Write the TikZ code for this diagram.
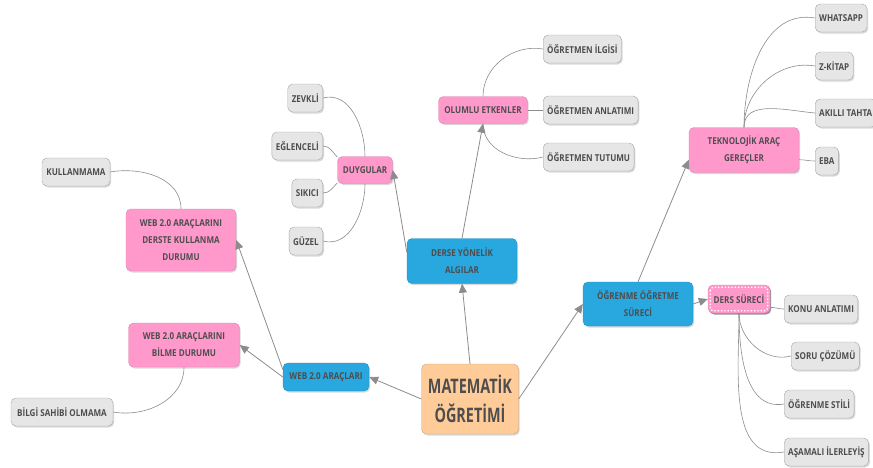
\documentclass[tikz,border=0pt]{standalone}
\usepackage{fontspec}
\setmainfont{Open Sans}[FakeStretch=0.85]
\newfontfamily\rootfont{Open Sans}[FakeStretch=0.72]
\usepackage{tikz}
\usetikzlibrary{arrows.meta}
\usetikzlibrary{shadows}
\definecolor{nodepink}{HTML}{FF99CC}
\definecolor{nodeblue}{HTML}{29A8DF}
\definecolor{rootpeach}{HTML}{FFCC99}
\definecolor{leafgray}{HTML}{E6E6E6}
\definecolor{linegray}{HTML}{8C8C8C}
\definecolor{txtgray}{HTML}{4D4D4D}
\tikzset{>=stealth}
\tikzset{
  box/.style={rounded corners=5pt, text=txtgray, align=center,
    font=\fontsize{9.5}{17}\selectfont\bfseries, inner xsep=4pt,
    drop shadow={shadow xshift=1.2pt, shadow yshift=-1.5pt, opacity=#1}},
  box/.default=0.3,
  leaf/.style={box, fill=leafgray, draw=gray!70, minimum height=28pt},
  pinkbox/.style={box, fill=nodepink, draw=nodepink!85!black, minimum height=27pt},
  dersbox/.style={box=0.85, fill=nodepink, draw=nodepink!85!black, minimum height=28pt},
  bluebox/.style={box, fill=nodeblue, draw=nodeblue!85!black, minimum height=28pt},
  rootbox/.style={box, fill=rootpeach, draw=rootpeach!80!black,
    font=\rootfont\fontsize{20}{29}\selectfont\bfseries},
  mainlink/.style={draw=linegray, line width=0.8pt, -{Triangle[length=9pt,width=8pt]}},
  sublink/.style={draw=linegray, line width=0.6pt}
}

\begin{document}
\begin{tikzpicture}[x=1pt,y=1pt]
      \useasboundingbox (0,0) rectangle (873,-467);
      % centre and first level
      \node[rootbox, minimum width=97pt, minimum height=70pt] (root) at (470,-399) {MATEMATİK\\ÖĞRETİMİ};
      \node[bluebox, minimum width=86pt] (web) at (326,-377) {WEB 2.0 ARAÇLARI};
      \node[bluebox, minimum width=110pt, minimum height=45pt] (derse) at (462,-261) {DERSE YÖNELİK\\ALGILAR};
      \node[bluebox, minimum width=110pt, minimum height=44pt] (ogrenme) at (638,-304) {ÖĞRENME ÖĞRETME\\SÜRECİ};
      % web 2.0 side
      \node[pinkbox, minimum width=111pt, minimum height=44pt] (bilme) at (184,-345) {WEB 2.0 ARAÇLARINI\\BİLME DURUMU};
      \node[leaf, minimum width=102pt] (bilgi) at (62,-412) {BİLGİ SAHİBİ OLMAMA};
      \node[pinkbox, minimum width=110pt, minimum height=62pt] (derste) at (181,-240) {WEB 2.0 ARAÇLARINI\\DERSTE KULLANMA\\DURUMU};
      \node[leaf, minimum width=68pt] (kullan) at (76,-172) {KULLANMAMA};
      % algilar side
      \node[pinkbox, minimum width=55pt] (duygu) at (365,-170) {DUYGULAR};
      \node[leaf, anchor=east] (zevk) at (323,-98) {ZEVKLİ};
      \node[leaf, anchor=east] (eglen) at (323,-146) {EĞLENCELİ};
      \node[leaf, anchor=east] (sikici) at (323,-193) {SIKICI};
      \node[leaf, anchor=east] (guzel) at (323,-241) {GÜZEL};
      \node[pinkbox, minimum width=89pt] (olumlu) at (483,-110) {OLUMLU ETKENLER};
      \node[leaf, anchor=west] (ilgi) at (543,-49) {ÖĞRETMEN İLGİSİ};
      \node[leaf, anchor=west] (anlatim) at (543,-110) {ÖĞRETMEN ANLATIMI};
      \node[leaf, anchor=west] (tutum) at (543,-157) {ÖĞRETMEN TUTUMU};
      % surec side
      \node[pinkbox, minimum width=110pt, minimum height=45pt] (tekno) at (744,-150) {TEKNOLOJİK ARAÇ\\GEREÇLER};
      \node[leaf, anchor=west] (whats) at (815,-18) {WHATSAPP};
      \node[leaf, anchor=west] (zkitap) at (815,-66) {Z-KİTAP};
      \node[leaf, anchor=west] (akilli) at (815,-113) {AKILLI TAHTA};
      \node[leaf, anchor=west] (eba) at (815,-161) {EBA};
      \node[dersbox, minimum width=62pt] (ders) at (739,-299) {DERS SÜRECİ};
      \draw[white, dotted, line width=1.3pt, rounded corners=3pt] ([xshift=2.5pt,yshift=-2.5pt]ders.north west) rectangle ([xshift=-2.5pt,yshift=2.5pt]ders.south east);
      \node[leaf, anchor=west] (konu) at (784,-309) {KONU ANLATIMI};
      \node[leaf, anchor=west] (soru) at (791,-356) {SORU ÇÖZÜMÜ};
      \node[leaf, anchor=west] (stil) at (784,-404) {ÖĞRENME STİLİ};
      \node[leaf, anchor=west] (asama) at (784,-452) {AŞAMALI İLERLEYİŞ};
      % arrows
      \draw[mainlink] (root.west) -- (web.east);
      \draw[mainlink] (root.north) -- (derse.south);
      \draw[mainlink] (root.east) -- (ogrenme.west);
      \draw[mainlink] (web.west) -- (bilme.east);
      \draw[mainlink] (web.170) -- (derste.east);
      \draw[mainlink] (derse.171) -- (duygu.east);
      \draw[mainlink] (derse.north) -- (olumlu.south);
      \draw[mainlink] (ogrenme.north) -- (tekno.190);
      \draw[mainlink] (ogrenme.east) -- (ders.west);
      % thin curves
      \draw[sublink] (derste.north) to[out=90,in=10] (kullan.east);
      \draw[sublink] (bilme.south) to[out=-90,in=-10] (bilgi.east);
      \draw[sublink] (duygu.north) to[out=90,in=15] (zevk.east);
      \draw[sublink] (duygu.155) to[out=135,in=0] (eglen.east);
      \draw[sublink] (duygu.205) to[out=-135,in=0] (sikici.east);
      \draw[sublink] (duygu.south) to[out=-90,in=-15] (guzel.east);
      \draw[sublink] (olumlu.north) to[out=90,in=170] (ilgi.west);
      \draw[sublink] (olumlu.east) -- (anlatim.west);
      \draw[sublink] (olumlu.south) to[out=-90,in=-165] (tutum.west);
      \draw[sublink] (tekno.north) to[out=90,in=170] (whats.west);
      \draw[sublink] (tekno.north) to[out=90,in=170] (zkitap.west);
      \draw[sublink] (tekno.north) to[out=90,in=175] (akilli.west);
      \draw[sublink] (tekno.-10) to[out=0,in=180] (eba.west);
      \draw[sublink] (ders.-15) to[out=0,in=180] (konu.west);
      \draw[sublink] (ders.south) to[out=-90,in=-165] (soru.west);
      \draw[sublink] (ders.south) to[out=-90,in=-170] (stil.west);
      \draw[sublink] (ders.south) to[out=-90,in=-170] (asama.west);
    \end{tikzpicture}
\end{document}
